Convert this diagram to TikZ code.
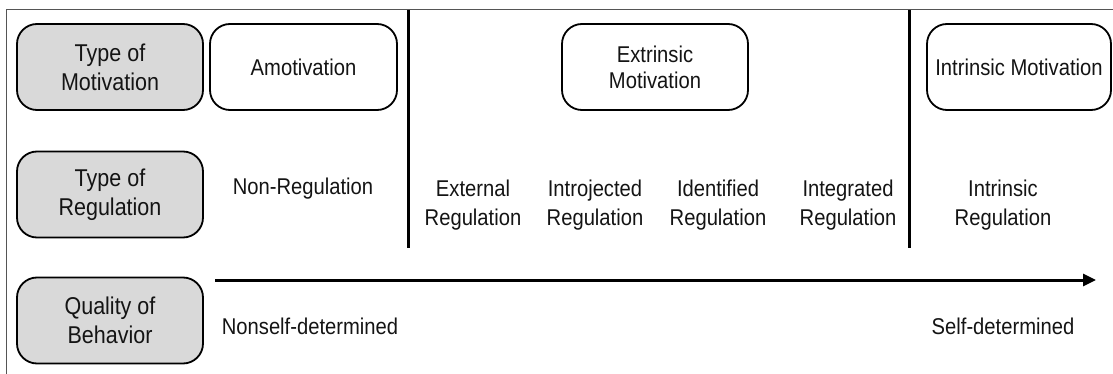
\documentclass[tikz,border=0pt]{standalone}
\usepackage{fontspec}
\usepackage{graphicx}
\setmainfont{Liberation Sans}
\usetikzlibrary{arrows.meta}
\definecolor{boxgray}{HTML}{D9D9D9}
\definecolor{framegray}{HTML}{555555}
\definecolor{txt}{HTML}{141414}
\newcommand\vst[1]{\scalebox{1}[1.13]{#1}}
\tikzset{
  base/.style={font=\fontsize{20.2}{29}\selectfont, text=txt, align=center, inner sep=0pt},
  rbox/.style={base, draw=black, line width=1.8pt, rounded corners=20pt, minimum height=86pt},
  graybox/.style={rbox, fill=boxgray, minimum width=186pt, font=\fontsize{21.5}{29}\selectfont},
  whitebox/.style={rbox, fill=white},
  lbl/.style={base},
  divider/.style={line width=3pt, black},
}
\begin{document}
\begin{tikzpicture}[x=1pt,y=-1pt]
\useasboundingbox (0,0) rectangle (1113,374);
% frame
\coordinate (fbl) at (6,374);
\coordinate (ftl) at (6,10);
\coordinate (ftr) at (1113,10);
\draw[framegray, line width=1pt] (fbl) -- (ftl) -- (ftr);
% left header boxes
\node[graybox] (tm) at (110,67) {\vst{Type of}\\\vst{Motivation}};
\node[graybox] (tr) at (110,194.5) {\vst{Type of}\\\vst{Regulation}};
\node[graybox] (qb) at (110,320.5) {\vst{Quality of}\\\vst{Behavior}};
% motivation boxes
\node[whitebox, minimum width=187pt] (amo) at (303.5,67) {\vst{Amotivation}};
\node[whitebox, minimum width=186pt] (ext) at (655,67) {\vst{Extrinsic}\\[-3pt]\vst{Motivation}};
\node[whitebox, minimum width=184pt] (intm) at (1019,67) {\vst{Intrinsic Motivation}};
% regulation labels
\node[lbl] (nonreg) at (303,189) {\vst{Non-Regulation}};
\node[lbl] (extreg) at (473,205) {\vst{External}\\\vst{Regulation}};
\node[lbl] (introreg) at (595,205) {\vst{Introjected}\\\vst{Regulation}};
\node[lbl] (identreg) at (718,205) {\vst{Identified}\\\vst{Regulation}};
\node[lbl] (integreg) at (848,205) {\vst{Integrated}\\\vst{Regulation}};
\node[lbl] (intreg) at (1003,205) {\vst{Intrinsic}\\\vst{Regulation}};
% dividers
\coordinate (d1t) at (408,10);
\coordinate (d1b) at (408,248);
\coordinate (d2t) at (909,10);
\coordinate (d2b) at (909,248);
\draw[divider] (d1t) -- (d1b);
\draw[divider] (d2t) -- (d2b);
% arrow
\coordinate (as) at (215,280);
\coordinate (ae) at (1096,280);
\draw[line width=3pt, -{Triangle[length=13pt,width=12pt]}] (as) -- (ae);
% behavior labels
\node[lbl] (nsd) at (310,326) {\vst{Nonself-determined}};
\node[lbl] (sd) at (1003,326) {\vst{Self-determined}};
\end{tikzpicture}
\end{document}
